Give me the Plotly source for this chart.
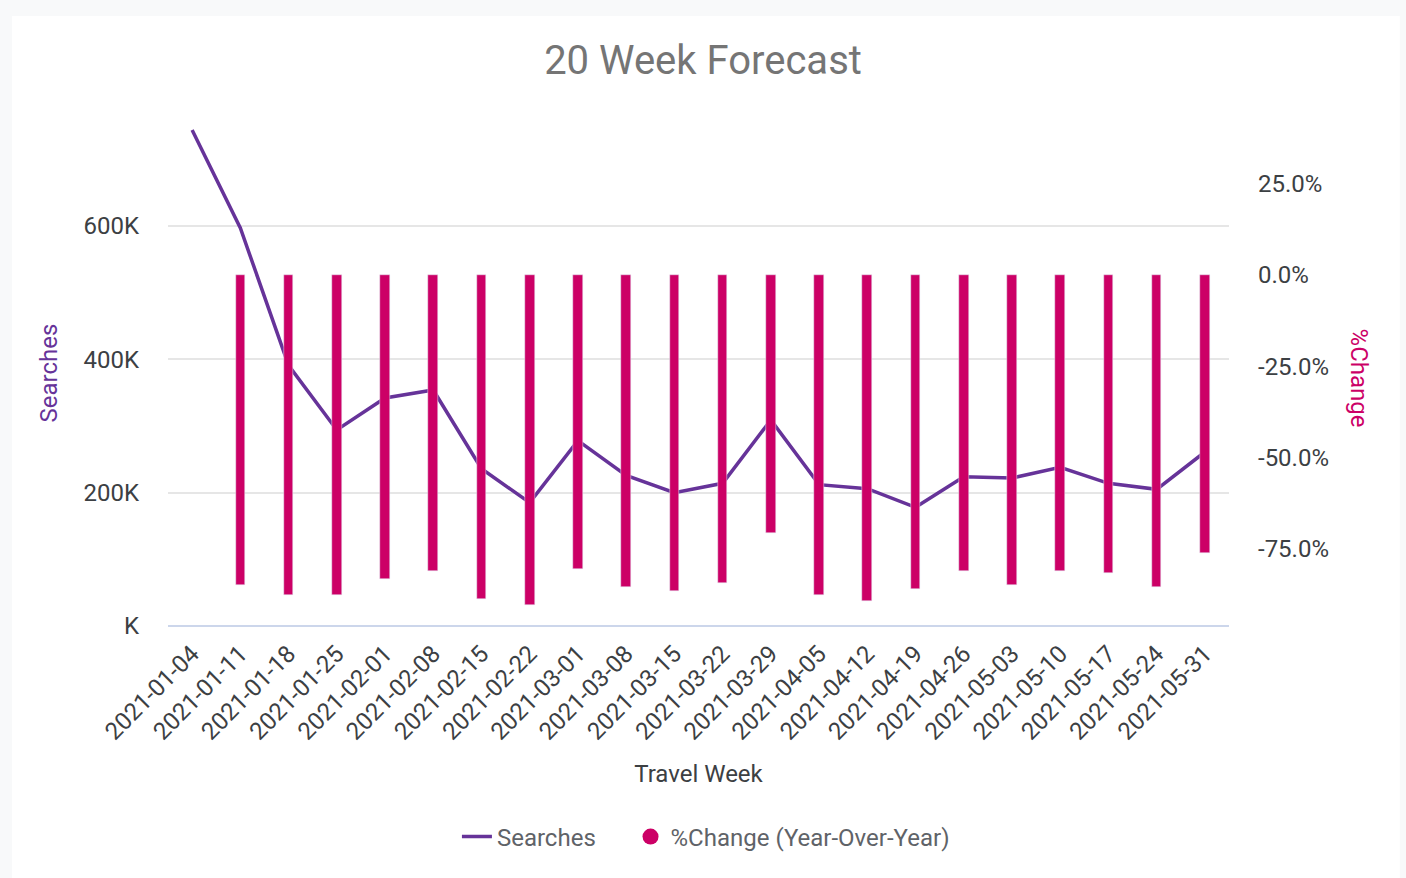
import plotly.graph_objects as go

weeks = ['2021-01-04', '2021-01-11', '2021-01-18', '2021-01-25', '2021-02-01', '2021-02-08',
         '2021-02-15', '2021-02-22', '2021-03-01', '2021-03-08', '2021-03-15', '2021-03-22',
         '2021-03-29', '2021-04-05', '2021-04-12', '2021-04-19', '2021-04-26', '2021-05-03',
         '2021-05-10', '2021-05-17', '2021-05-24', '2021-05-31']
searches = [744000, 597000, 391000, 294000, 342000, 354000, 236000, 185000, 278000, 226000,
            200000, 214000, 309000, 212000, 206000, 178000, 224000, 222000, 238000, 214000,
            205000, 261000]
change_weeks = weeks[1:]
change_yoy = [-84.9, -87.6, -87.6, -83.2, -81.0, -88.7, -90.4, -80.5, -85.4, -86.5, -84.3,
              -70.6, -87.6, -89.3, -86.0, -81.0, -84.9, -81.0, -81.6, -85.4, -76.1]

left_ticks = [0, 200000, 400000, 600000]
left_text = ['K', '200K', '400K', '600K']
right_ticks = [-75, -50, -25, 0, 25]
right_text = ['-75.0%', '-50.0%', '-25.0%', '0.0%', '25.0%']

purple = '#663399'
magenta = '#cc0066'
font = 'Roboto, Arial, sans-serif'

fig = go.Figure()
fig.add_trace(go.Bar(x=change_weeks, y=change_yoy, yaxis='y2', marker_color=magenta,
                     width=0.2, showlegend=False, name='%Change (Year-Over-Year)'))
# non-breaking spaces widen the gap between the two legend entries
fig.add_trace(go.Scatter(x=weeks, y=searches, mode='lines', name='Searches' + '\u00a0' * 5,
                         line=dict(color=purple, width=3.5)))
# legend entry with a round marker for the bars
fig.add_trace(go.Scatter(x=[None], y=[None], mode='markers', name='%Change (Year-Over-Year)',
                         marker=dict(color=magenta, size=24, symbol='circle')))

fig.update_layout(
    width=1406, height=878,
    margin=dict(l=168, r=177, t=120, b=252),
    paper_bgcolor='#f8f9fa', plot_bgcolor='white',
    font=dict(family=font, size=24, color='#3c4043'),
    title=dict(text='20 Week Forecast', x=0.5, xanchor='center', y=0.932, yanchor='middle',
               font=dict(size=40, color='#757575')),
    bargap=0,
    xaxis=dict(type='category', categoryorder='array', categoryarray=weeks,
               range=[-0.5, 21.5], tickangle=-45, showgrid=False, ticks='',
               ticklabelstandoff=8,
               title=dict(text='Travel Week', font=dict(size=24, color='#3c4043'),
                          standoff=20),
               tickfont=dict(size=24, color='#3c4043')),
    yaxis=dict(range=[0, 759000], tickvals=left_ticks, ticktext=left_text,
               showgrid=True, gridcolor='#e6e6e6', gridwidth=2, zeroline=True,
               zerolinecolor='#ccd6eb', zerolinewidth=2, ticklabelstandoff=28,
               title=dict(text='Searches', font=dict(size=24, color=purple), standoff=19),
               tickfont=dict(size=24, color='#3c4043')),
    yaxis2=dict(range=[-96.1, 42.4], overlaying='y', side='right', tickvals=right_ticks,
                ticktext=right_text, showgrid=False, zeroline=False, ticklabelstandoff=28,
                tickfont=dict(size=24, color='#3c4043')),
    legend=dict(orientation='h', x=0.507, xanchor='center', y=-0.417, yanchor='middle',
                bgcolor='rgba(0,0,0,0)', font=dict(size=24, color='#5f6368')),
    shapes=[dict(type='rect', xref='paper', yref='paper', x0=-0.147, x1=1.161,
                 y0=-0.6, y1=1.2055, fillcolor='white', line_width=0, layer='below')],
    annotations=[dict(text='%Change', xref='paper', yref='paper', x=1.122, y=0.49,
                      xanchor='center', yanchor='middle', textangle=90, showarrow=False,
                      font=dict(size=24, color=magenta))],
)

fig.write_html('out.html', config={'displayModeBar': False},
               post_script="document.body.style.margin='0';")
